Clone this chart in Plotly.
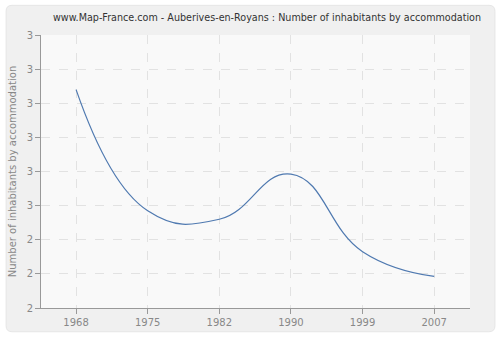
import plotly.graph_objects as go

years = ["1968", "1975", "1982", "1990", "1999", "2007"]
values = [3.28, 2.57, 2.52, 2.785, 2.33, 2.185]
ytick_vals = [2.0, 2.2, 2.4, 2.6, 2.8, 3.0, 3.2, 3.4, 3.6]
ytick_text = ["2", "2", "2", "3", "3", "3", "3", "3", "3"]

FONT = "DejaVu Sans"

# plot area in pixels: x 40..470, y 35..311
def px(x):
    return (x - 40) / 430

def py(y):
    return (311 - y) / 276

r = 6
x0, x1, y0, y1 = 5, 495, 5, 335
path = (
    f"M {px(x0 + r)},{py(y0)} L {px(x1 - r)},{py(y0)} "
    f"Q {px(x1)},{py(y0)} {px(x1)},{py(y0 + r)} "
    f"L {px(x1)},{py(y1 - r)} Q {px(x1)},{py(y1)} {px(x1 - r)},{py(y1)} "
    f"L {px(x0 + r)},{py(y1)} Q {px(x0)},{py(y1)} {px(x0)},{py(y1 - r)} "
    f"L {px(x0)},{py(y0 + r)} Q {px(x0)},{py(y0)} {px(x0 + r)},{py(y0)} Z"
)

fig = go.Figure()
fig.add_trace(go.Scatter(
    x=years, y=values, mode="lines",
    line=dict(color="#4f79b0", width=1.2, shape="spline", smoothing=1.3),
    hoverinfo="x+y",
))

fig.update_layout(
    width=500, height=340,
    margin=dict(l=40, r=30, t=35, b=29),
    paper_bgcolor="white",
    plot_bgcolor="#f9f9f9",
    showlegend=False,
    title=dict(
        text="www.Map-France.com - Auberives-en-Royans : Number of inhabitants by accommodation",
        x=0.534, xanchor="center", y=1 - 18 / 340, yanchor="middle",
        font=dict(family=FONT, size=9.6, color="#333333"),
    ),
    shapes=[
        dict(type="path", xref="paper", yref="paper", layer="below", path=path,
             fillcolor="#f0f0f0", line=dict(color="#e6e6e6", width=1)),
        dict(type="rect", xref="paper", yref="paper", layer="below",
             x0=0, x1=1, y0=0, y1=1, fillcolor="#f9f9f9", line=dict(width=0)),
    ],
)

fig.update_xaxes(
    type="category", range=[-0.49, 5.5],
    showline=True, linecolor="#999999", linewidth=1,
    ticks="outside", ticklen=5, tickcolor="#999999",
    showgrid=True, gridcolor="#e2e2e2", griddash="dash", gridwidth=1,
    tickfont=dict(family=FONT, size=10, color="#888888"),
    zeroline=False, fixedrange=True,
)
fig.update_yaxes(
    range=[2.0, 3.6], tickvals=ytick_vals, ticktext=ytick_text,
    showline=True, linecolor="#999999", linewidth=1,
    ticks="outside", ticklen=5, tickcolor="#999999",
    showgrid=True, gridcolor="#e2e2e2", griddash="dash", gridwidth=1,
    tickfont=dict(family=FONT, size=10, color="#888888"),
    title=dict(text="Number of inhabitants by accommodation",
               font=dict(family=FONT, size=10, color="#888888"), standoff=8),
    zeroline=False, fixedrange=True,
)

fig.write_html("out.html")
